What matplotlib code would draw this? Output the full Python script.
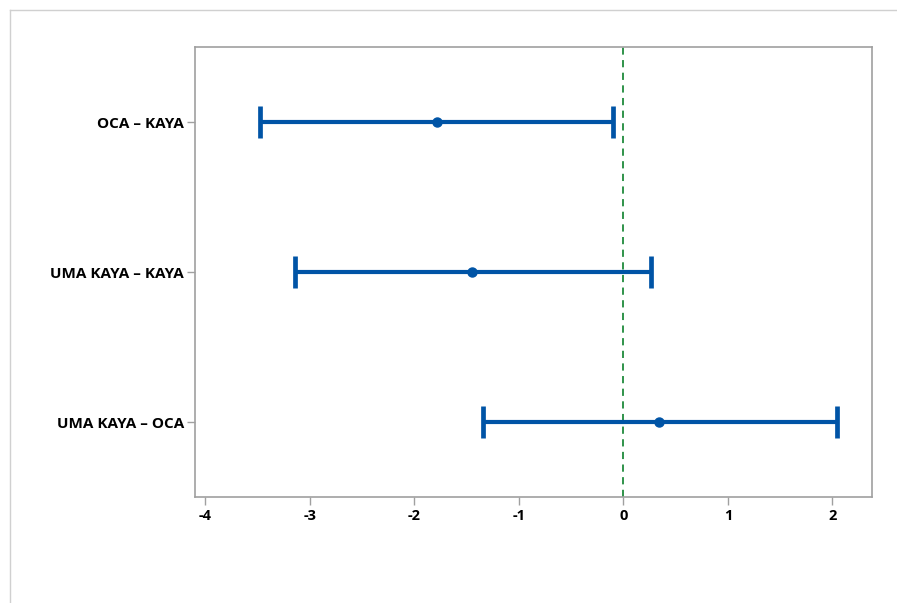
import matplotlib.pyplot as plt
from matplotlib.lines import Line2D

comparisons = ["OCA - KAYA", "UMA KAYA - KAYA", "UMA KAYA - OCA"]
centers = [-1.78, -1.445, 0.345]
lowers = [-3.48, -3.145, -1.34]
uppers = [-0.095, 0.26, 2.045]

blue = "#0054a6"
positions = [3, 2, 1]

plt.rcParams["axes.unicode_minus"] = False

fig = plt.figure(figsize=(8.97, 6.03), dpi=100)
ax = fig.add_axes([195 / 897, 106 / 603, 677 / 897, 450 / 603])

err_lo = [c - l for c, l in zip(centers, lowers)]
err_hi = [u - c for c, u in zip(centers, uppers)]
ax.errorbar(centers, positions, xerr=[err_lo, err_hi], fmt="o", color=blue,
            ecolor=blue, elinewidth=3, capsize=11.5, capthick=3.4, markersize=6.5, zorder=3)
ax.axvline(0, color="#1f8a3b", linestyle=(0, (4, 3)), linewidth=1.3, zorder=2)

ax.set_xlim(-4.1, 2.38)
ax.set_ylim(0.5, 3.5)
ax.set_xticks([-4, -3, -2, -1, 0, 1, 2])
ax.set_yticks(positions)
ax.set_yticklabels([s.replace("-", "\u2013") for s in comparisons])

for lbl in ax.get_xticklabels():
    lbl.set_fontweight("bold")
    lbl.set_fontfamily("Open Sans")
    lbl.set_fontsize(10.5)
for lbl in ax.get_yticklabels():
    lbl.set_fontweight("bold")
    lbl.set_fontfamily("Open Sans")
    lbl.set_fontsize(11)

for sp in ax.spines.values():
    sp.set_color("#a0a0a0")
    sp.set_linewidth(1.2)
ax.tick_params(axis="both", color="#a0a0a0", length=6, width=1, direction="out")
ax.tick_params(axis="x", pad=3)
ax.tick_params(axis="y", pad=2)

# light frame around the figure (top and left edges)
fig.add_artist(Line2D([10 / 897, 1], [1 - 10 / 603, 1 - 10 / 603], color="#d0d0d0", lw=1))
fig.add_artist(Line2D([10 / 897, 10 / 897], [0, 1 - 10 / 603], color="#d0d0d0", lw=1))

fig.savefig("out.png", dpi=100)
